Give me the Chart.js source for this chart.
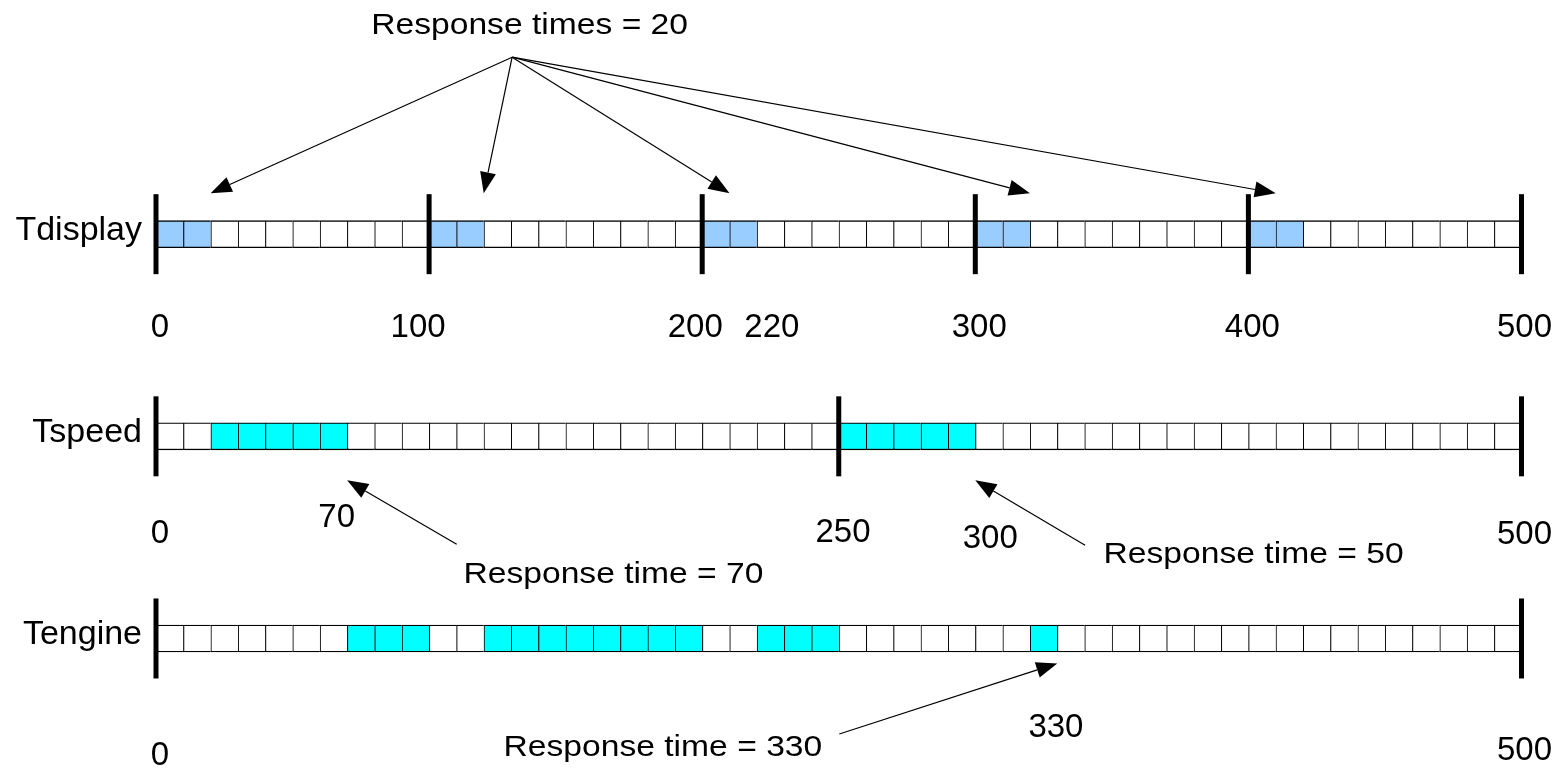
<!DOCTYPE html>
<html>
<head>
<meta charset="utf-8">
<script src="https://cdn.jsdelivr.net/npm/chart.js@4"></script>
<style>
html,body{margin:0;padding:0;background:#fff;overflow:hidden;}
#wrap{width:1565px;height:769px;position:relative;}
</style>
</head>
<body>
<div id="wrap"><canvas id="c" width="1565" height="769"></canvas></div>
<script>
// ---------- data ----------
const rows = ['Tdisplay', 'Tspeed', 'Tengine'];
const timeStart = 0;
const timeEnd = 500;
const slot = 10;

// busy intervals per task
const displayBusy = [[0, 20], [100, 120], [200, 220], [300, 320], [400, 420]];
const speedBusy   = [[20, 70], [250, 300]];
const engineBusy  = [[70, 100], [120, 200], [220, 250], [320, 330]];

// period boundaries (thick bars)
const displayMarks = [0, 100, 200, 300, 400, 500];
const speedMarks   = [0, 250, 500];
const engineMarks  = [0, 500];

// time labels under each row
const displayTicks = [0, 100, 200, 220, 300, 400, 500];
const speedTicks   = [0, 70, 250, 300, 500];
const engineTicks  = [0, 330, 500];

// annotation texts and the times they point at
const note20Text = 'Response times = 20';
const note20Targets = [20, 120, 210, 320, 410];
const note70Text = 'Response time = 70';
const note70Targets = [70];
const note50Text = 'Response time = 50';
const note50Targets = [300];
const note330Text = 'Response time = 330';
const note330Targets = [330];

// ---------- styles / layout ----------
const FONT = "'Liberation Sans', Arial, sans-serif";
const busyColors = ['#99CCFF', '#00FFFF', '#00FFFF'];
const busySets = [displayBusy, speedBusy, engineBusy];
const markSets = [displayMarks, speedMarks, engineMarks];
const tickSets = [displayTicks, speedTicks, engineTicks];
const FIRST_ROW_PX = 234.2, LAST_ROW_PX = 638.5, RIGHT_PX = 1521.5;
// label nudges [dx, dy] in px relative to (value pixel, row centre)
const tickNudge = [
  [[4, 94], [-11, 94], [-7, 94], [15, 94], [4, 94], [4, 94], [3, 94]],
  [[4, 98], [-10.5, 82], [4.3, 97], [15, 103], [3, 99]],
  [[4, 117.5], [-1.3, 89.5], [3, 112]]
];
const notes = [
  { text: note20Text, row: 0, textAt: 136.8, textDy: -200, from: [130.4, -177], targets: note20Targets, tipDy: -41 },
  { text: note70Text, row: 1, textAt: 167.5, textDy: 147, from: [110.1, 108], targets: note70Targets, tipDy: 44 },
  { text: note50Text, row: 1, textAt: 401.9, textDy: 127, from: [340.2, 109], targets: note50Targets, tipDy: 44 },
  { text: note330Text, row: 2, textAt: 185.6, textDy: 117.5, from: [250.2, 95.5], targets: note330Targets, tipDy: 25 }
];

// ---------- datasets ----------
const slots = [];
for (let t = timeStart; t < timeEnd; t += slot) slots.push(t);

const markerDataset = {
  type: 'scatter',
  indexAxis: 'x',
  data: markSets.flatMap((marks, ri) => marks.map(v => ({ x: v, y: rows[ri] }))),
  showLine: false,
  pointStyle: 'line',
  pointRotation: 90,
  pointRadius: 40,
  pointHoverRadius: 40,
  pointBorderWidth: 5,
  pointBorderColor: '#000000',
  pointBackgroundColor: '#000000',
  clip: false,
  order: 0
};

const cellDatasets = slots.map(t => ({
  type: 'bar',
  indexAxis: 'y',
  grouped: false,
  data: rows.map(() => [t, t + slot]),
  backgroundColor: rows.map((r, ri) =>
    busySets[ri].some(([a, b]) => t >= a && t + slot <= b) ? busyColors[ri] : '#FFFFFF'),
  borderColor: '#000000',
  borderWidth: { top: 1.3, bottom: 1.3, left: 1.3, right: 0 },
  borderSkipped: false,
  barThickness: 27,
  clip: false,
  order: 1
}));

// ---------- overlay: time labels and annotation arrows ----------
function drawArrow(ctx, x1, y1, x2, y2) {
  const L = 21, H = 8;
  const ang = Math.atan2(y2 - y1, x2 - x1);
  const bx = x2 - L * Math.cos(ang), by = y2 - L * Math.sin(ang);
  ctx.beginPath();
  ctx.moveTo(x1, y1);
  ctx.lineTo(bx, by);
  ctx.lineWidth = 1.2;
  ctx.strokeStyle = '#000';
  ctx.stroke();
  ctx.beginPath();
  ctx.moveTo(x2, y2);
  ctx.lineTo(bx + H * Math.sin(ang), by - H * Math.cos(ang));
  ctx.lineTo(bx - H * Math.sin(ang), by + H * Math.cos(ang));
  ctx.closePath();
  ctx.fillStyle = '#000';
  ctx.fill();
}

const overlayPlugin = {
  id: 'overlay',
  afterDatasetsDraw(chart) {
    const ctx = chart.ctx;
    const xs = chart.scales.x, ys = chart.scales.y;
    const X = v => xs.getPixelForValue(v);
    const Y = i => ys.getPixelForValue(i);
    ctx.save();
    ctx.fillStyle = '#000';
    ctx.font = '33px ' + FONT;
    ctx.textAlign = 'center';
    ctx.textBaseline = 'middle';
    tickSets.forEach((vals, ri) => vals.forEach((v, k) => {
      const [dx, dy] = tickNudge[ri][k];
      ctx.fillText(String(v), X(v) + dx, Y(ri) + dy);
    }));
    notes.forEach(n => {
      ctx.save();
      ctx.translate(X(n.textAt), Y(n.row) + n.textDy);
      ctx.scale(1.14, 1);
      ctx.font = '29.5px ' + FONT;
      ctx.textAlign = 'center';
      ctx.textBaseline = 'alphabetic';
      ctx.fillStyle = '#000';
      ctx.fillText(n.text, 0, 0);
      ctx.restore();
      n.targets.forEach(tv => drawArrow(ctx, X(n.from[0]), Y(n.row) + n.from[1], X(tv), Y(n.row) + n.tipDy));
    });
    ctx.restore();
  }
};

const chart = new Chart(document.getElementById('c'), {
  type: 'bar',
  data: { labels: rows, datasets: [markerDataset, ...cellDatasets] },
  options: {
    indexAxis: 'y',
    responsive: false,
    animation: false,
    events: [],
    layout: { autoPadding: false, padding: { left: 0, right: 43.5, top: 133.1, bottom: 29.45 } },
    plugins: { legend: { display: false }, tooltip: { enabled: false } },
    scales: {
      x: { type: 'linear', min: timeStart, max: timeEnd, display: false, offset: false },
      y: {
        type: 'category',
        labels: rows,
        offset: true,
        grid: { display: false, drawTicks: false },
        border: { display: false },
        ticks: { color: '#000', font: { family: FONT, size: 34 }, padding: 14, labelOffset: -4 },
        afterFit: s => { s.width = 156; s.paddingTop = 0; s.paddingBottom = 0; }
      }
    }
  },
  plugins: [overlayPlugin]
});

// calibrate the layout so the first/last rows and the right end sit where the reference has them
for (let k = 0; k < 5; k++) {
  const ys = chart.scales.y;
  const r0 = ys.getPixelForValue(0), r2 = ys.getPixelForValue(rows.length - 1);
  const q = (r2 - r0) / (2 * (rows.length - 1));
  const tq = (LAST_ROW_PX - FIRST_ROW_PX) / (2 * (rows.length - 1));
  const pad = chart.config.options.layout.padding;
  const dTop = (FIRST_ROW_PX - tq) - (r0 - q);
  const dBot = (r2 + q) - (LAST_ROW_PX + tq);
  const dRight = chart.chartArea.right - RIGHT_PX;
  if (Math.abs(dTop) < 0.05 && Math.abs(dBot) < 0.05 && Math.abs(dRight) < 0.05) break;
  pad.top += dTop;
  pad.bottom += dBot;
  pad.right += dRight;
  chart.update();
}
</script>
</body>
</html>
